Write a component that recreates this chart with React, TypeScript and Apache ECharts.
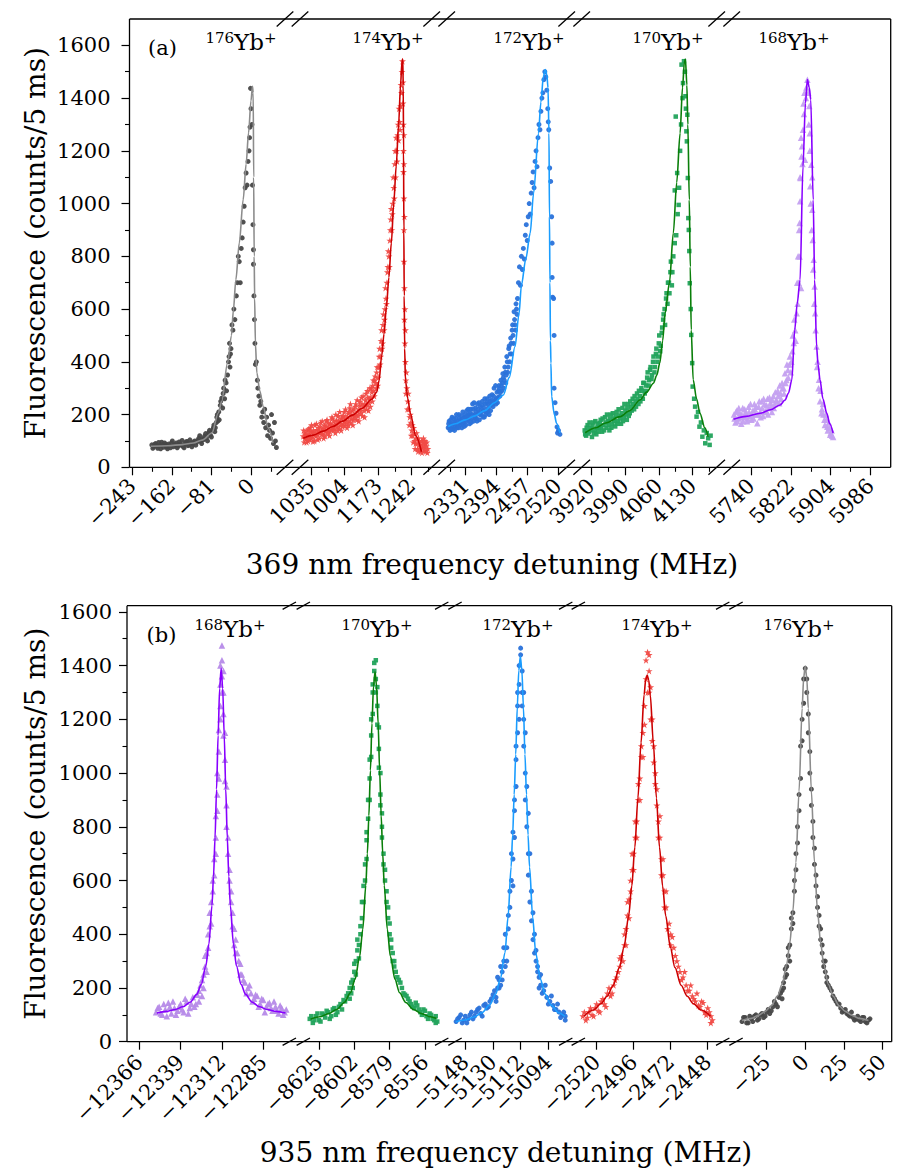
import React, { useEffect, useRef } from 'react';
import * as echarts from 'echarts';

const FONT = '"DejaVu Serif", serif';

// ---------- tick values & labels ----------
const A_TICKS = [
  [-243, -162, -81, 0],
  [1035, 1104, 1173, 1242],
  [2331, 2394, 2457, 2520],
  [3920, 3990, 4060, 4130],
  [5740, 5822, 5904, 5986],
];
const A_TICK_LABELS = [
  ['\u2212243', '\u2212162', '\u221281', '0'],
  ['1035', '1004', '1173', '1242'],
  ['2331', '2394', '2457', '2520'],
  ['3920', '3990', '4060', '4130'],
  ['5740', '5822', '5904', '5986'],
];
const A_MINOR = [
  [-202.5, -121.5, -40.5, 40.5],
  [1069.5, 1138.5, 1207.5, 1276.5],
  [2299.5, 2362.5, 2425.5, 2488.5],
  [3955, 4025, 4095, 4165],
  [5781, 5863, 5945],
];
const B_TICKS = [
  [-12366, -12339, -12312, -12285],
  [-8625, -8602, -8579, -8556],
  [-5148, -5130, -5112, -5094],
  [-2520, -2496, -2472, -2448],
  [-25, 0, 25, 50],
];
const B_TICK_LABELS = [
  ['\u221212366', '\u221212339', '\u221212312', '\u221212285'],
  ['\u22128625', '\u22128602', '\u22128579', '\u22128556'],
  ['\u22125148', '\u22125130', '\u22125112', '\u22125094'],
  ['\u22122520', '\u22122496', '\u22122472', '\u22122448'],
  ['\u221225', '0', '25', '50'],
];
const Y_TICKS = [0, 200, 400, 600, 800, 1000, 1200, 1400, 1600];
const Y_MINOR = [100, 300, 500, 700, 900, 1100, 1300, 1500];

const A_ISOTOPES = ['176', '174', '172', '170', '168'];
const B_ISOTOPES = ['168', '170', '172', '174', '176'];

// ---------- panel (a) data : 369 nm ----------
const A176_PTS = [
  [-203,85],[-199,78],[-195,90],[-191,72],[-187,83],[-183,95],[-179,76],[-175,88],[-171,70],[-167,82],[-163,92],[-159,78],[-155,86],[-151,74],[-147,96],[-143,84],[-139,79],[-135,90],[-131,98],[-127,85],[-123,92],[-119,88],[-115,100],[-111,95],[-107,110],[-103,98],[-99,108],[-95,118],[-91,112],[-87,130],[-83,122],[-79,140],[-76,160],[-73,150],[-70,190],[-68,175],[-66,210],[-63,235],[-60,262],[-58,225],[-56,300],[-53,330],[-50,290],[-48,350],[-45,420],[-43,380],[-41,450],[-39,540],[-37,520],[-35,600],[-33,560],[-30,650],[-28,700],[-26,800],[-24,780],[-22,700],[-20,830],[-18,870],[-16,930],[-14,990],[-12,1060],[-10,1116],[-8,1070],[-6,1160],[-4,1200],[-3,1250],[-2,1290],[0,1360],[-1,1437],[2,1300],[3,1070],[4,920],[5,825],[5,770],[6,650],[7,560],[8,470],[9,390],[11,400],[13,330],[14,300],[16,270],[18,235],[20,250],[22,190],[24,210],[26,170],[28,220],[30,150],[32,190],[34,120],[36,160],[38,140],[40,110],[42,200],[44,130],[46,90],[48,170],[50,100],[52,75],
  [-201,72],[-197,88],[-193,80],[-189,94],[-185,70],[-181,86],[-177,92],[-173,78],[-169,88],[-165,74],[-161,100],[-157,84],[-153,92],[-149,80],[-145,88],[-141,102],[-137,74],[-133,96],[-129,82],[-125,104],[-121,78],[-117,96],[-113,84],[-109,102],[-105,120],[-101,90],[-97,105],[-93,128],[-89,100],[-85,140],[-81,115],[-77,150],[-74,135],[-71,170],[-69,200],[-65,180],[-62,250],[-57,280],[-54,260],[-51,320],[-46,400],[-44,470],[-42,430],
];
const A176_FIT = [
  [-205,80],[-170,82],[-140,86],[-118,92],[-100,103],[-80,130],[-67,206],[-60,250],[-48,396],[-40,500],[-36,597],[-31,711],[-24,850],[-16,1015],[-10,1150],[-5,1268],[0,1390],[3,1445],[4.5,1420],[5.5,1100],[6.5,800],[7.5,640],[9,470],[12,358],[18,290],[25,230],[35,150],[45,92],
];
const A174_PTS = [
  [1019,118],[1021,95],[1023,130],[1025,108],[1027,140],[1029,100],[1031,125],[1033,150],[1035,112],[1037,135],[1039,98],[1041,128],[1043,160],[1045,118],[1047,142],[1049,105],[1051,150],[1053,130],[1055,170],[1057,125],[1059,145],[1061,110],[1063,160],[1065,138],[1067,175],[1069,130],[1071,152],[1073,120],[1075,168],[1077,145],[1079,185],[1081,140],[1083,162],[1085,130],[1087,178],[1089,155],[1091,195],[1093,148],[1095,172],[1097,140],[1099,190],[1101,165],[1103,210],[1105,158],[1107,185],[1109,150],[1111,205],[1113,175],[1115,225],[1117,168],[1119,198],[1121,160],[1123,220],[1125,190],[1127,240],[1129,180],[1131,212],[1133,175],[1135,235],[1137,205],[1139,265],[1141,195],[1143,230],[1145,190],[1147,255],[1149,220],[1151,290],[1153,215],[1155,260],[1157,230],[1159,300],[1161,250],[1163,330],[1165,270],[1167,345],[1169,300],[1171,380],[1173,340],[1175,420],[1177,390],[1179,480],[1181,450],[1183,540],[1185,520],[1187,600],[1189,640],[1191,700],[1193,760],[1195,800],[1197,860],[1199,940],[1201,900],[1203,1000],[1205,1060],[1207,1150],[1209,1100],[1211,1200],[1213,1260],[1215,1240],[1217,1310],[1219,1370],[1221,1420],[1222,1500],[1223,1540],[1224,1460],[1224,1380],[1225,1300],[1225,1200],[1225,1120],[1226,1020],[1226,900],[1226,780],[1227,680],[1227,560],[1228,470],[1229,400],[1230,330],[1232,300],[1234,250],[1236,220],[1238,190],[1240,170],[1242,140],[1244,120],[1246,150],[1248,100],[1250,90],[1252,130],[1254,70],[1256,110],[1258,85],[1260,60],[1262,100],[1264,75],[1266,110],[1268,65],[1270,90],[1272,80],[1274,55],
  [1020,140],[1022,110],[1024,125],[1026,95],[1028,120],[1030,145],[1032,105],[1034,135],[1036,160],[1038,115],[1040,140],[1042,100],[1044,130],[1046,165],[1048,125],[1050,140],[1052,110],[1054,155],[1056,135],[1058,175],[1060,125],[1062,148],[1064,118],[1066,155],[1068,180],[1070,140],[1072,165],[1074,135],[1076,158],[1078,190],[1080,150],[1082,175],[1084,145],[1086,200],[1088,165],[1090,140],[1092,178],[1094,210],[1096,160],[1098,185],[1100,155],[1102,195],[1104,175],[1106,220],[1108,170],[1110,190],[1112,160],[1114,210],[1116,240],[1118,185],[1120,215],[1122,180],[1124,200],[1126,230],[1128,200],[1130,255],[1132,195],[1134,220],[1136,250],[1138,215],[1140,240],[1142,270],[1144,215],[1146,240],[1148,280],[1150,235],[1152,265],[1154,245],[1156,300],[1158,265],[1160,285],[1162,310],[1164,290],[1166,330],[1168,320],[1170,360],[1172,310],[1174,380],[1176,450],[1178,420],[1180,520],[1182,470],[1184,580],[1186,560],[1188,680],[1190,620],[1192,740],[1194,820],[1196,760],[1198,900],[1200,980],[1202,960],[1204,1100],[1206,1020],[1208,1200],[1210,1250],[1212,1160],[1214,1300],[1216,1360],[1218,1280],[1220,1450],[1226,1260],[1226,1150],[1227,950],[1228,600],[1229,520],[1230,280],[1231,360],[1233,220],[1235,280],[1237,160],[1239,200],[1241,120],[1243,160],[1245,95],[1247,130],[1249,70],[1251,110],[1253,90],[1255,60],[1257,100],[1259,70],[1261,85],[1263,55],[1265,95],[1267,80],[1269,100],[1271,60],[1273,95],[1275,70],
];
const A174_FIT = [
  [1019,110],[1040,122],[1060,137],[1080,155],[1100,175],[1120,198],[1140,224],[1160,258],[1170,285],[1175,330],[1180,420],[1185,505],[1190,609],[1195,720],[1200,850],[1205,1000],[1210,1141],[1215,1300],[1219,1450],[1222,1540],[1223.5,1548],[1224.5,1450],[1225.2,1200],[1225.8,900],[1226.5,650],[1227.5,450],[1229,331],[1234,260],[1239,205],[1250,120],[1262,59],
];
const A172_PTS = [
  [2295,150],[2297,175],[2299,140],[2301,165],[2303,190],[2305,145],[2307,170],[2309,155],[2311,185],[2313,150],[2315,175],[2317,200],[2319,160],[2321,180],[2323,150],[2325,210],[2327,170],[2329,190],[2331,160],[2333,215],[2335,180],[2337,200],[2339,165],[2341,220],[2343,185],[2345,240],[2347,175],[2349,200],[2351,225],[2353,185],[2355,240],[2357,205],[2359,180],[2361,230],[2363,200],[2365,250],[2367,215],[2369,190],[2371,240],[2373,210],[2375,260],[2377,225],[2379,200],[2381,250],[2383,235],[2385,275],[2387,230],[2389,300],[2391,255],[2393,240],[2395,285],[2397,265],[2399,310],[2401,270],[2403,330],[2405,290],[2407,355],[2409,300],[2411,380],[2413,320],[2415,420],[2417,360],[2419,450],[2421,400],[2423,490],[2425,430],[2427,540],[2429,470],[2431,560],[2433,520],[2435,600],[2437,640],[2439,700],[2441,760],[2443,690],[2445,800],[2447,750],[2449,830],[2451,790],[2453,880],[2455,920],[2457,860],[2459,950],[2461,1000],[2463,960],[2465,1040],[2467,1080],[2469,1120],[2471,1060],[2473,1160],[2475,1200],[2477,1140],[2479,1250],[2481,1300],[2483,1280],[2485,1350],[2487,1400],[2489,1420],[2491,1470],[2493,1500],[2495,1480],[2497,1430],[2499,1360],[2500,1310],[2501,1280],[2503,1135],[2505,1084],[2507,950],[2508,850],[2508,720],[2509,645],[2511,640],[2512,500],[2512,300],[2514,245],[2516,205],[2518,153],[2519,130],[2521,140],[2524,125],
  [2296,165],[2298,150],[2300,180],[2302,145],[2304,160],[2306,185],[2308,140],[2310,170],[2312,200],[2314,160],[2316,150],[2318,185],[2320,170],[2322,195],[2324,165],[2326,185],[2328,155],[2330,200],[2332,175],[2334,195],[2336,220],[2338,185],[2340,205],[2342,170],[2344,200],[2346,220],[2348,245],[2350,190],[2352,210],[2354,175],[2356,220],[2358,245],[2360,200],[2362,215],[2364,235],[2366,190],[2368,225],[2370,260],[2372,200],[2374,245],[2376,210],[2378,240],[2380,270],[2382,215],[2384,255],[2386,240],[2388,270],[2390,250],[2392,310],[2394,260],[2396,245],[2398,290],[2400,300],[2402,285],[2404,310],[2406,320],[2408,340],[2410,330],[2412,360],[2414,350],[2416,400],[2418,380],[2420,460],[2422,430],[2424,470],[2426,520],[2428,500],[2430,590],[2432,540],[2434,620],[2436,580],
];
const A172_FIT = [
  [2295,155],[2310,165],[2330,180],[2350,195],[2370,215],[2390,245],[2408,274],[2420,340],[2432,458],[2440,580],[2445,690],[2454,790],[2463,888],[2470,1040],[2480,1267],[2485,1385],[2490,1482],[2494,1508],[2497,1490],[2499.5,1440],[2501.5,1267],[2502.5,950],[2503.5,700],[2504.5,480],[2505.5,395],[2507,268],[2512,205],[2517,167],[2524,130],
];
const A170_PTS = [
  [3907,140],[3910,120],[3913,160],[3916,135],[3919,150],[3922,115],[3925,170],[3928,140],[3931,125],[3934,165],[3937,150],[3940,180],[3943,135],[3946,160],[3949,190],[3952,150],[3955,175],[3958,140],[3961,200],[3964,165],[3967,185],[3970,155],[3973,210],[3976,175],[3979,195],[3982,165],[3985,225],[3988,190],[3991,215],[3994,180],[3997,240],[4000,205],[4003,230],[4006,260],[4009,220],[4012,250],[4015,280],[4018,240],[4021,270],[4024,300],[4027,260],[4030,320],[4033,290],[4036,340],[4039,310],[4042,370],[4045,335],[4048,400],[4051,360],[4054,430],[4057,400],[4060,470],[4063,440],[4066,510],[4069,560],[4072,600],[4075,640],[4078,620],[4081,700],[4084,740],[4087,690],[4090,800],[4093,850],[4093,1050],[4095,1330],[4096,880],[4098,1116],[4099,960],[4101,995],[4102,1060],[4104,1200],[4106,1300],[4107,1527],[4109,1400],[4110,1457],[4112,1540],[4114,1500],[4115,1407],[4116,1360],[4117,1274],[4118,1236],[4119,1337],[4120,1097],[4121,945],[4122,900],[4123,820],[4124,698],[4126,600],[4127,502],[4129,395],[4130,306],[4133,260],[4135,230],[4138,192],[4141,210],[4144,154],[4147,170],[4150,116],[4153,140],[4156,91],[4159,130],[4162,110],[4165,85],[4167,120],
  [3908,125],[3911,150],[3914,128],[3917,170],[3920,140],[3923,158],[3926,130],[3929,175],[3932,150],[3935,135],[3938,168],[3941,150],[3944,185],[3947,140],[3950,170],[3953,200],[3956,160],[3959,185],[3962,150],[3965,205],[3968,175],[3971,195],[3974,165],[3977,220],[3980,185],[3983,205],[3986,175],[3989,240],[3992,200],[3995,225],[3998,195],[4001,250],[4004,215],[4007,240],[4010,270],[4013,230],[4016,260],[4019,290],[4022,250],[4025,290],[4028,320],[4031,280],[4034,310],[4037,360],[4040,330],[4043,380],[4046,350],[4049,420],[4052,380],[4055,450],[4058,420],[4061,500],[4064,460],[4067,530],[4070,580],[4073,540],[4076,660],[4079,700],[4082,660],[4085,780],[4088,740],
];
const A170_FIT = [
  [3908,131],[3930,150],[3950,168],[3980,192],[4000,215],[4021,255],[4035,285],[4049,319],[4056,350],[4062,395],[4068,480],[4073,584],[4082,700],[4090,888],[4097,1080],[4104,1267],[4109,1440],[4113,1540],[4115,1548],[4118,1450],[4120,1300],[4123,1014],[4125,760],[4127,521],[4131,332],[4138,260],[4145,205],[4155,150],[4162,116],
];
const A168_PTS = [
  [5705,200],[5708,170],[5711,215],[5714,185],[5717,205],[5720,165],[5723,225],[5726,190],[5729,210],[5732,175],[5735,230],[5738,195],[5741,180],[5744,215],[5747,240],[5750,200],[5753,167],[5756,230],[5759,210],[5762,250],[5765,195],[5768,240],[5771,215],[5774,260],[5777,225],[5780,245],[5783,210],[5786,270],[5789,240],[5792,255],[5795,290],[5798,243],[5801,280],[5804,320],[5807,300],[5810,357],[5813,331],[5816,369],[5819,390],[5822,360],[5825,440],[5828,471],[5831,520],[5834,584],[5836,620],[5838,700],[5840,799],[5840,926],[5841,1009],[5842,1097],[5843,680],[5844,1179],[5845,1217],[5847,1280],[5849,1340],[5851,1166],[5853,1400],[5856,1470],[5858,1420],[5860,1370],[5861,1267],[5862,1066],[5864,1147],[5866,977],[5867,862],[5869,787],[5871,686],[5872,584],[5875,458],[5877,400],[5880,332],[5883,290],[5885,205],[5888,240],[5891,180],[5894,200],[5897,154],[5900,170],[5903,123],[5906,140],[5909,115],
  [5706,185],[5709,210],[5712,175],[5715,225],[5718,190],[5721,200],[5724,175],[5727,220],[5730,200],[5733,185],[5736,210],[5739,240],[5742,200],[5745,185],[5748,220],[5751,230],[5754,200],[5757,250],[5760,190],[5763,225],[5766,260],[5769,210],[5772,235],[5775,200],[5778,265],[5781,230],[5784,255],[5787,225],[5790,285],[5793,250],[5796,270],[5799,310],[5802,260],[5805,300],[5808,280],[5811,320],[5814,390],[5817,340],[5820,420],[5823,400],[5826,500],[5829,560],[5832,480],[5835,700],[5837,800],[5839,900],[5841,1100],[5843,1250],[5846,1150],[5848,1380],[5850,1420],[5854,1440],[5859,1300],[5861,1200],[5863,1000],[5865,900],[5866,1100],[5868,750],[5870,620],[5873,520],[5876,380],[5879,300],[5882,250],[5886,220],[5889,200],[5892,160],[5895,180],[5898,140],[5901,150],[5904,130],[5907,120],
];
const A168_FIT = [
  [5704,182],[5730,193],[5759,205],[5780,218],[5800,236],[5810,255],[5817,281],[5824,331],[5830,521],[5835,620],[5841,711],[5847,1141],[5852,1380],[5856,1470],[5860,1440],[5863,1394],[5868,1014],[5871,711],[5875,458],[5878,390],[5882,332],[5888,260],[5896,205],[5902,165],[5909,130],
];

// ---------- panel (b) data : 935 nm ----------
const B168_PTS = [
  [-12355,110],[-12353,130],[-12351,100],[-12349,120],[-12347,145],[-12345,105],[-12343,125],[-12341,115],[-12339,140],[-12337,110],[-12335,150],[-12333,125],[-12331,165],[-12329,140],[-12327,190],[-12326,210],[-12325,170],[-12324,250],[-12323,280],[-12322,330],[-12321,400],[-12320,430],[-12319,520],[-12318,600],[-12317,680],[-12316,760],[-12316,840],[-12315,920],[-12315,1000],[-12314,1080],[-12314,1160],[-12313,1250],[-12313,1330],[-12313,1400],[-12312,1420],[-12312,1475],[-12312,1360],[-12311,1300],[-12311,1220],[-12311,1140],[-12310,1050],[-12310,970],[-12309,880],[-12309,800],[-12308,700],[-12307,640],[-12306,560],[-12305,480],[-12304,420],[-12303,380],[-12302,330],[-12300,290],[-12299,250],[-12297,220],[-12295,200],[-12293,180],[-12291,160],[-12289,170],[-12287,140],[-12285,155],[-12283,130],[-12281,145],[-12279,115],[-12277,130],[-12275,105],[-12273,125],[-12271,110],
  [-12354,125],[-12352,105],[-12350,140],[-12348,95],[-12346,130],[-12344,150],[-12342,100],[-12340,130],[-12338,120],[-12336,160],[-12334,105],[-12332,140],[-12330,130],[-12328,175],[-12327,150],[-12325,230],[-12324,200],[-12323,320],[-12322,260],[-12321,350],[-12320,480],[-12319,440],[-12318,560],[-12317,620],[-12316,700],[-12315,860],[-12314,980],[-12313,1200],[-12312,1300],[-12311,1380],[-12310,1150],[-12309,950],[-12308,760],[-12307,600],[-12306,520],[-12305,430],[-12304,360],[-12303,330],[-12301,300],[-12300,250],[-12298,230],[-12296,180],[-12294,210],[-12292,150],[-12290,175],[-12288,130],[-12286,160],[-12284,110],[-12282,140],[-12280,125],[-12278,150],[-12276,115],[-12274,135],[-12272,100],[-12270,120],
];
const B168_FIT = [
  [-12354.5,107],[-12348.5,113],[-12342.5,120],[-12337.5,130],[-12332.5,148],[-12328.5,176],[-12325.5,213],[-12322.5,282],[-12320.5,364],[-12318.5,507],[-12317.5,615],[-12316.5,760],[-12315.5,940],[-12314.5,1140],[-12313.5,1315],[-12312.5,1390],[-12311.5,1315],[-12310.5,1140],[-12309.5,940],[-12308.5,760],[-12307.5,615],[-12306.5,507],[-12304.5,364],[-12302.5,282],[-12299.5,213],[-12296.5,176],[-12292.5,148],[-12287.5,130],[-12282.5,120],[-12276.5,113],[-12270.5,107],
];
const B170_PTS = [
  [-8631,85],[-8629,70],[-8627,95],[-8625,80],[-8623,105],[-8621,90],[-8619,110],[-8617,95],[-8615,125],[-8613,110],[-8611,140],[-8609,155],[-8607,170],[-8605,200],[-8604,180],[-8603,230],[-8602,260],[-8601,300],[-8600,340],[-8599,310],[-8598,400],[-8597,460],[-8596,520],[-8595,600],[-8594,680],[-8594,750],[-8593,830],[-8592,900],[-8592,980],[-8591,1060],[-8591,1140],[-8590,1220],[-8590,1300],[-8589,1380],[-8588,1420],[-8588,1350],[-8587,1320],[-8587,1250],[-8586,1170],[-8586,1090],[-8585,1000],[-8585,920],[-8584,850],[-8584,760],[-8583,700],[-8582,640],[-8581,560],[-8580,500],[-8579,440],[-8578,380],[-8577,330],[-8576,300],[-8575,260],[-8573,230],[-8571,200],[-8569,175],[-8567,160],[-8565,140],[-8563,125],[-8561,135],[-8559,110],[-8557,120],[-8555,95],[-8553,105],[-8551,85],[-8549,95],[-8548,75],
  [-8630,95],[-8628,80],[-8626,105],[-8624,75],[-8622,100],[-8620,115],[-8618,85],[-8616,120],[-8614,100],[-8612,130],[-8610,120],[-8608,150],[-8606,180],[-8605,160],[-8604,220],[-8603,200],[-8602,290],[-8601,250],[-8600,380],[-8599,360],[-8598,430],[-8597,520],[-8596,580],[-8595,660],[-8594,780],[-8593,900],[-8592,1050],[-8591,1200],[-8590,1330],[-8589,1410],[-8588,1300],[-8587,1180],[-8586,1020],[-8585,880],[-8584,800],[-8583,660],[-8582,600],[-8581,520],[-8580,460],[-8579,400],[-8578,350],[-8577,300],[-8576,280],[-8574,240],[-8572,220],[-8570,180],[-8568,170],[-8566,150],[-8564,130],[-8562,145],[-8560,120],[-8558,100],[-8556,115],[-8554,85],[-8552,100],[-8550,80],[-8549,70],
];
const B170_FIT = [
  [-8630.5,84],[-8624.5,93],[-8618.5,105],[-8613.5,120],[-8608.5,146],[-8604.5,182],[-8601.5,232],[-8598.5,318],[-8596.5,418],[-8594.5,582],[-8593.5,700],[-8592.5,842],[-8591.5,1010],[-8590.5,1185],[-8589.5,1323],[-8588.5,1377],[-8587.5,1323],[-8586.5,1185],[-8585.5,1010],[-8584.5,842],[-8583.5,700],[-8582.5,582],[-8580.5,418],[-8578.5,318],[-8575.5,232],[-8572.5,182],[-8568.5,146],[-8563.5,120],[-8558.5,105],[-8552.5,93],[-8548.5,86],
];
const B172_PTS = [
  [-5154,75],[-5152,90],[-5150,70],[-5148,95],[-5146,85],[-5144,110],[-5142,95],[-5140,120],[-5138,105],[-5136,135],[-5134,125],[-5132,150],[-5130,175],[-5128,165],[-5127,200],[-5126,230],[-5125,210],[-5124,260],[-5123,300],[-5122,280],[-5121,350],[-5120,420],[-5119,500],[-5118,600],[-5117,680],[-5117,780],[-5116,860],[-5115,950],[-5115,1050],[-5114,1150],[-5114,1250],[-5113,1330],[-5113,1400],[-5112,1465],[-5112,1440],[-5111,1380],[-5111,1300],[-5110,1200],[-5110,1100],[-5109,1000],[-5109,900],[-5108,800],[-5107,700],[-5107,620],[-5106,520],[-5105,450],[-5104,380],[-5103,330],[-5102,300],[-5101,260],[-5100,240],[-5099,210],[-5097,190],[-5095,165],[-5093,150],[-5091,135],[-5089,120],[-5087,110],[-5085,100],[-5083,95],
  [-5153,85],[-5151,100],[-5149,80],[-5147,70],[-5145,100],[-5143,85],[-5141,110],[-5139,125],[-5137,95],[-5135,140],[-5133,130],[-5131,160],[-5129,190],[-5128,150],[-5127,240],[-5126,200],[-5125,280],[-5124,230],[-5123,350],[-5122,400],[-5121,300],[-5120,470],[-5119,560],[-5118,700],[-5117,580],[-5116,900],[-5116,760],[-5115,1100],[-5114,1300],[-5113,1200],[-5111,1250],[-5110,1300],[-5109,1150],[-5108,950],[-5107,850],[-5106,700],[-5105,560],[-5104,480],[-5103,400],[-5102,340],[-5101,280],[-5100,200],[-5099,250],[-5098,180],[-5096,210],[-5094,140],[-5092,170],[-5090,120],[-5088,140],[-5086,90],[-5084,110],[-5083,80],
];
const B172_FIT = [
  [-5154.2,74],[-5148.2,81],[-5142.2,92],[-5137.2,108],[-5132.2,136],[-5128.2,178],[-5125.2,233],[-5122.2,331],[-5120.2,465],[-5118.2,650],[-5117.2,770],[-5116.2,920],[-5115.2,1070],[-5114.2,1245],[-5113.2,1382],[-5112.2,1435],[-5111.2,1382],[-5110.2,1245],[-5109.2,1070],[-5108.2,920],[-5107.2,770],[-5106.2,650],[-5104.2,465],[-5102.2,331],[-5099.2,233],[-5096.2,178],[-5092.2,136],[-5087.2,108],[-5083.2,94],
];
const B174_PTS = [
  [-2529,95],[-2527,80],[-2525,110],[-2523,100],[-2521,125],[-2519,115],[-2517,150],[-2515,140],[-2513,180],[-2511,170],[-2509,210],[-2507,240],[-2505,280],[-2504,320],[-2502,360],[-2501,420],[-2500,470],[-2499,530],[-2498,600],[-2497,640],[-2496,700],[-2495,760],[-2494,820],[-2493,900],[-2492,980],[-2491,1060],[-2490,1150],[-2489,1250],[-2488,1350],[-2488,1420],[-2487,1450],[-2486,1380],[-2486,1300],[-2485,1200],[-2484,1120],[-2483,1040],[-2482,960],[-2481,880],[-2480,820],[-2479,760],[-2478,680],[-2477,620],[-2476,560],[-2475,500],[-2473,440],[-2472,400],[-2470,350],[-2468,300],[-2466,260],[-2464,240],[-2462,210],[-2460,190],[-2458,170],[-2456,150],[-2454,135],[-2452,150],[-2450,110],[-2448,125],[-2446,95],[-2445,80],
  [-2528,110],[-2526,90],[-2524,125],[-2522,95],[-2520,140],[-2518,110],[-2516,160],[-2514,130],[-2512,200],[-2510,180],[-2508,230],[-2506,260],[-2505,310],[-2503,300],[-2502,400],[-2501,360],[-2500,520],[-2499,460],[-2498,560],[-2497,700],[-2496,640],[-2495,820],[-2494,760],[-2493,960],[-2492,900],[-2491,1100],[-2490,1060],[-2489,1180],[-2487,1300],[-2486,1440],[-2485,1320],[-2484,1200],[-2483,1100],[-2482,1000],[-2481,940],[-2480,760],[-2479,840],[-2478,620],[-2477,680],[-2476,500],[-2475,560],[-2474,420],[-2472,360],[-2471,390],[-2469,320],[-2467,280],[-2465,230],[-2463,260],[-2461,190],[-2459,210],[-2457,160],[-2455,180],[-2453,130],[-2451,145],[-2449,100],[-2447,110],[-2446,70],
];
const B174_FIT = [
  [-2528.25,95],[-2522.25,118],[-2517.25,141],[-2513.25,169],[-2509.25,210],[-2505.25,276],[-2502.25,352],[-2499.25,469],[-2497.25,579],[-2495.25,724],[-2493.25,907],[-2491.25,1112],[-2489.25,1291],[-2488.25,1346],[-2487.25,1365],[-2486.25,1346],[-2485.25,1291],[-2483.25,1112],[-2481.25,907],[-2479.25,724],[-2477.25,579],[-2475.25,469],[-2472.25,352],[-2469.25,276],[-2465.25,210],[-2461.25,169],[-2457.25,141],[-2452.25,118],[-2446.25,95],
];
const B176_PTS = [
  [-41,75],[-39,90],[-37,70],[-35,85],[-33,95],[-31,80],[-29,100],[-27,90],[-25,110],[-23,105],[-21,130],[-19,140],[-17,165],[-15,190],[-14,220],[-13,240],[-12,280],[-11,320],[-10,360],[-9,420],[-8,480],[-7,560],[-6,640],[-5,740],[-4,860],[-3,980],[-2,1120],[-1,1260],[0,1390],[1,1300],[2,1150],[3,1000],[4,880],[5,760],[6,660],[7,580],[8,500],[9,430],[10,380],[11,330],[12,300],[13,260],[14,240],[15,210],[17,190],[19,160],[21,140],[23,125],[25,115],[27,105],[29,95],[31,90],[33,85],[35,80],[37,90],[39,75],[41,80],
  [-40,90],[-38,70],[-36,95],[-34,75],[-32,100],[-30,85],[-28,105],[-26,95],[-24,120],[-22,115],[-20,150],[-18,130],[-16,180],[-15,160],[-14,200],[-13,270],[-12,250],[-11,350],[-10,300],[-9,460],[-8,440],[-7,600],[-6,700],[-5,800],[-4,920],[-3,1100],[-2,1200],[-1,1350],[1,1350],[2,1220],[3,1080],[4,940],[5,820],[6,720],[7,620],[8,540],[9,470],[10,420],[11,360],[12,280],[13,300],[14,220],[16,200],[18,170],[20,150],[22,140],[24,110],[26,120],[28,100],[30,110],[32,80],[34,95],[36,75],[38,90],[40,70],[42,85],
];
const B176_FIT = [
  [-41,79],[-35,87],[-30,99],[-26,113],[-22,134],[-18,170],[-15,214],[-12,288],[-10,367],[-8,486],[-6,668],[-4,933],[-2,1241],[-1,1355],[0,1398],[1,1355],[2,1241],[4,933],[6,668],[8,486],[10,367],[12,288],[15,214],[18,170],[22,134],[26,113],[30,99],[35,87],[41,79],
];

// ---------- styling per isotope ----------
const STAR = 'path://M12,0 L14.9,8.6 L24,8.6 L16.6,14 L19.4,22.6 L12,17.2 L4.6,22.6 L7.4,14 L0,8.6 L9.1,8.6 Z';
const STYLE: Record<string, { pt: string; line: string; sym: string; size: number }> = {
  '176': { pt: '#474747', line: '#8c8c8c', sym: 'circle', size: 5 },
  '174': { pt: '#f04a45', line: '#cc0000', sym: STAR, size: 7 },
  '172': { pt: '#2a72da', line: '#1a9dff', sym: 'circle', size: 5 },
  '170': { pt: '#22a35c', line: '#0a7f0a', sym: 'rect', size: 4.5 },
  '168': { pt: '#c4a0f0', line: '#8800ff', sym: 'triangle', size: 6.5 },
};

// ---------- layout ----------
const A_SEGS = [
  { left: 129.5, right: 285, min: -248.7, max: 69.6 },
  { left: 300, right: 431.7, min: 1012.4, max: 1283 },
  { left: 446.7, right: 566.7, min: 2292, max: 2537.8 },
  { left: 581.7, right: 716.7, min: 3900.8, max: 4179.6 },
  { left: 731.7, right: 890.7, min: 5700.3, max: 6027.5 },
];
const B_SEGS = [
  { left: 127, right: 289.3, min: -12374, max: -12268 },
  { left: 303.3, right: 441.7, min: -8635.2, max: -8545.1 },
  { left: 455, right: 565.7, min: -5154.7, max: -5082.7 },
  { left: 578.3, right: 722.7, min: -2531.9, max: -2438.3 },
  { left: 736, right: 891.7, min: -44.9, max: 56.1 },
];

function buildOption() {
  const panels = [
    {
      segs: A_SEGS, top: 19, bottom: 467.3, ymax: 1700, ticks: A_TICKS, labels: A_TICK_LABELS, minor: A_MINOR,
      iso: A_ISOTOPES, pts: [A176_PTS, A174_PTS, A172_PTS, A170_PTS, A168_PTS], fits: [A176_FIT, A174_FIT, A172_FIT, A170_FIT, A168_FIT],
      xMargin: 15, yMargin: 19, breakDx: 8.3, breakDy: 7.5,
      isoX: [241, 388, 529, 668, 794], isoY: 43, tag: '(a)', tagX: 148, tagY: 48,
      xTitle: '369 nm frequency detuning (MHz)', xTitleX: 492, xTitleY: 564,
    },
    {
      segs: B_SEGS, top: 605.7, bottom: 1041.7, ymax: 1623, ticks: B_TICKS, labels: B_TICK_LABELS, minor: null as any,
      iso: B_ISOTOPES, pts: [B168_PTS, B170_PTS, B172_PTS, B174_PTS, B176_PTS], fits: [B168_FIT, B170_FIT, B172_FIT, B174_FIT, B176_FIT],
      xMargin: 17, yMargin: 15, breakDx: 6.7, breakDy: 3.7,
      isoX: [230, 377, 518, 657, 799], isoY: 630.5, tag: '(b)', tagX: 146.5, tagY: 635,
      xTitle: '935 nm frequency detuning (MHz)', xTitleX: 506, xTitleY: 1152,
    },
  ];

  const grid: any[] = [];
  const xAxis: any[] = [];
  const yAxis: any[] = [];
  const series: any[] = [];
  const graphic: any[] = [];
  const extraX: any[] = [];
  const minorY: any[] = [];
  const black = '#000';
  const noLine = { show: false, onZero: false };

  panels.forEach((p, pi) => {
    p.segs.forEach((s, si) => {
      const gi = grid.length;
      grid.push({ left: s.left, top: p.top, width: s.right - s.left, height: p.bottom - p.top, containLabel: false });
      const tv = p.ticks[si];
      const tl = p.labels[si];
      const even = tv.filter((_, k) => k % 2 === 0);
      const odd = tv.filter((_, k) => k % 2 === 1);
      const fmt = (v: number) => {
        let best = 0;
        for (let k = 1; k < tv.length; k++) if (Math.abs(tv[k] - v) < Math.abs(tv[best] - v)) best = k;
        return tl[best];
      };
      const labelStyle = {
        show: true, interval: 0, rotate: 45, margin: p.xMargin, fontFamily: FONT, fontSize: 21,
        color: black, showMinLabel: true, showMaxLabel: true, hideOverlap: false, formatter: fmt,
      };
      // main axis: all ticks, labels at even positions
      xAxis.push({
        type: 'value', gridIndex: gi, position: 'bottom', min: s.min, max: s.max,
        axisLine: noLine, splitLine: { show: false },
        axisTick: { show: true, interval: 0, customValues: tv, length: 8, lineStyle: { color: black, width: 1.2 } },
        axisLabel: { ...labelStyle, customValues: even },
      });
      // label-only axis for odd positions (avoids label overlap culling)
      extraX.push({
        type: 'value', gridIndex: gi, position: 'bottom', min: s.min, max: s.max,
        axisLine: noLine, splitLine: { show: false }, axisTick: { show: false },
        axisLabel: { ...labelStyle, customValues: odd },
      });
      if (p.minor) {
        extraX.push({
          type: 'value', gridIndex: gi, position: 'bottom', min: s.min, max: s.max,
          axisLine: noLine, splitLine: { show: false }, axisLabel: { show: false },
          axisTick: { show: true, interval: 0, customValues: p.minor[si], length: 4.5, lineStyle: { color: black, width: 1.1 } },
        });
      }
      yAxis.push({
        type: 'value', gridIndex: gi, position: 'left', min: 0, max: p.ymax, show: si === 0,
        axisLine: noLine, splitLine: { show: false },
        axisTick: { show: true, interval: 0, customValues: Y_TICKS, length: 8, lineStyle: { color: black, width: 1.2 } },
        axisLabel: {
          show: true, interval: 0, customValues: Y_TICKS, margin: p.yMargin, fontFamily: FONT, fontSize: 21, color: black,
          showMinLabel: true, showMaxLabel: true, hideOverlap: false, formatter: (v: number) => String(v),
        },
      });
      if (si === 0) {
        minorY.push({
          type: 'value', gridIndex: gi, position: 'left', min: 0, max: p.ymax,
          axisLine: noLine, splitLine: { show: false }, axisLabel: { show: false },
          axisTick: { show: true, interval: 0, customValues: Y_MINOR, length: 4.5, lineStyle: { color: black, width: 1.1 } },
        });
      }
      const st = STYLE[p.iso[si]];
      const ptColor = pi === 1 && p.iso[si] === '168' ? '#b68ae8' : st.pt;
      series.push({
        type: 'scatter', xAxisIndex: gi, yAxisIndex: gi, data: p.pts[si],
        symbol: st.sym, symbolSize: st.size, itemStyle: { color: ptColor, opacity: 0.95 }, z: 2,
      });
      series.push({
        type: 'line', xAxisIndex: gi, yAxisIndex: gi, data: p.fits[si], showSymbol: false, symbol: 'none',
        smooth: 0.3, smoothMonotone: 'x', lineStyle: { color: st.line, width: 1.6 }, z: 3,
      });
      graphic.push({
        type: 'text', x: p.isoX[si], y: p.isoY, z: 10,
        style: {
          text: `{s|${p.iso[si]}}{m|Yb}{s|+}`, align: 'center', verticalAlign: 'middle', fill: black,
          rich: {
            s: { fontFamily: FONT, fontSize: 15, lineHeight: 14, verticalAlign: 'top', fill: black },
            m: { fontFamily: FONT, fontSize: 23, lineHeight: 26, verticalAlign: 'top', fill: black },
          },
        },
      });
    });

    const L = p.segs[0].left;
    const R = p.segs[p.segs.length - 1].right;
    const lw = 1.3;
    graphic.push({ type: 'line', z: 20, shape: { x1: L, y1: p.top, x2: R, y2: p.top }, style: { stroke: black, lineWidth: lw } });
    graphic.push({ type: 'line', z: 20, shape: { x1: L, y1: p.bottom, x2: R, y2: p.bottom }, style: { stroke: black, lineWidth: lw } });
    graphic.push({ type: 'line', z: 20, shape: { x1: L, y1: p.top, x2: L, y2: p.bottom }, style: { stroke: black, lineWidth: lw } });
    graphic.push({ type: 'line', z: 20, shape: { x1: R, y1: p.top, x2: R, y2: p.bottom }, style: { stroke: black, lineWidth: lw } });
    for (let k = 0; k < p.segs.length - 1; k++) {
      const xs = [p.segs[k].right, p.segs[k + 1].left];
      [p.top, p.bottom].forEach((yy) => {
        xs.forEach((xx) => {
          graphic.push({
            type: 'line', z: 21,
            shape: { x1: xx - p.breakDx, y1: yy + p.breakDy, x2: xx + p.breakDx, y2: yy - p.breakDy },
            style: { stroke: black, lineWidth: lw },
          });
        });
      });
    }
    graphic.push({
      type: 'text', x: p.tagX, y: p.tagY, z: 10,
      style: { text: p.tag, fontFamily: FONT, fontSize: 21, fill: black, align: 'left', verticalAlign: 'middle' },
    });
    graphic.push({
      type: 'text', x: p.xTitleX, y: p.xTitleY, z: 10,
      style: { text: p.xTitle, fontFamily: FONT, fontSize: 28, fill: black, align: 'center', verticalAlign: 'middle' },
    });
    graphic.push({
      type: 'text', x: 35, y: (p.top + p.bottom) / 2, rotation: Math.PI / 2, z: 10,
      style: { text: 'Fluorescence (counts/5 ms)', fontFamily: FONT, fontSize: 28, fill: black, align: 'center', verticalAlign: 'middle' },
    });
  });

  return {
    animation: false,
    backgroundColor: '#fff',
    grid,
    xAxis: [...xAxis, ...extraX],
    yAxis: [...yAxis, ...minorY],
    series,
    graphic,
  };
}

export default function App() {
  const ref = useRef<HTMLDivElement>(null);
  useEffect(() => {
    document.body.style.margin = '0';
    const chart = echarts.init(ref.current!, null, { renderer: 'svg' });
    chart.setOption(buildOption() as any);
    return () => chart.dispose();
  }, []);
  return <div ref={ref} style={{ width: 907, height: 1176 }} />;
}
